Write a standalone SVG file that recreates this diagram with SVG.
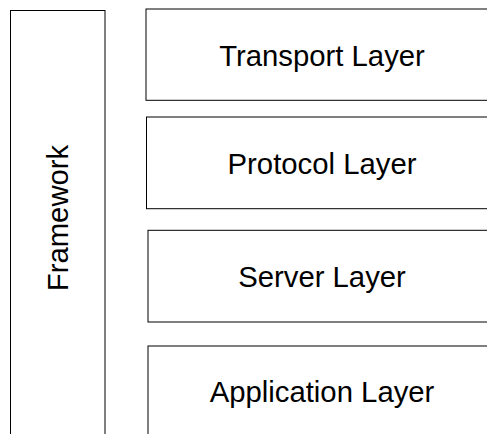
<svg xmlns="http://www.w3.org/2000/svg" width="487" height="434" viewBox="0 0 487 434">
<style>
.box{fill:#fff;stroke:#000;stroke-width:1}
.lbl{font-family:"Liberation Sans",Arial,sans-serif;font-size:29.3px;fill:#000;text-anchor:middle}
</style>
<rect width="487" height="434" fill="#fff"/>
<g id="framework">
<rect class="box" x="10.5" y="10.5" width="94.5" height="440"/>
<text class="lbl" transform="translate(68,218) rotate(-90)" x="0" y="0">Framework</text>
</g>
<g id="transport">
<rect class="box" x="146" y="9" width="352" height="91.3"/>
<text class="lbl" x="322" y="66">Transport Layer</text>
</g>
<g id="protocol">
<rect class="box" x="146.5" y="117" width="352" height="91.7"/>
<text class="lbl" x="322" y="173.5">Protocol Layer</text>
</g>
<g id="server">
<rect class="box" x="148" y="230.3" width="352" height="91.7"/>
<text class="lbl" x="322" y="286.5">Server Layer</text>
</g>
<g id="application">
<rect class="box" x="148" y="346" width="352" height="92"/>
<text class="lbl" x="322" y="401.7">Application Layer</text>
</g>
<g id="connectors"></g>
</svg>
